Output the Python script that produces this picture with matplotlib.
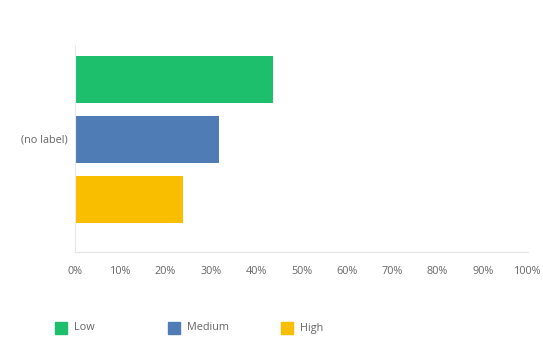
import matplotlib.pyplot as plt

# answer shares for the one question
levels = ['Low', 'Medium', 'High']
shares = [43.8, 31.8, 23.9]
colors = ['#1dbf6c', '#507cb6', '#f9be00']
ticks = [0, 10, 20, 30, 40, 50, 60, 70, 80, 90, 100]

plt.rcParams['font.family'] = ['Open Sans', 'DejaVu Sans']
txt = '#666666'

fig = plt.figure(figsize=(5.43, 3.38), dpi=100)
ax = fig.add_axes([75/543, 1-252/338, 453/543, 207/338])

ypos = [2, 1, 0]
ax.barh(ypos, shares, height=0.78, color=colors)
ax.set_xlim(0, 100)
ax.set_ylim(-0.875, 2.575)

ax.set_xticks(ticks)
ax.set_xticklabels(['{}%'.format(t) for t in ticks], fontsize=7.8, color=txt)
ax.tick_params(axis='x', length=0, pad=10)
ax.set_yticks([])
ax.text(-0.015, 1, '(no label)', transform=ax.get_yaxis_transform(),
        ha='right', va='center', fontsize=7.8, color=txt)

for s in ['top', 'right']:
    ax.spines[s].set_visible(False)
ax.spines['left'].set_color('#e6e9ee')
ax.spines['bottom'].set_color('#dfe2e6')

# legend row along the bottom, evenly spaced entries
for i, (c, l) in enumerate(zip(colors, levels)):
    x0 = 55 + i*113
    fig.patches.append(plt.Rectangle((x0/543, 1-334/338), 12/543, 12/338,
                                     transform=fig.transFigure, color=c))
    fig.text((x0+19)/543, 1-328/338, l, ha='left', va='center',
             fontsize=7.8, color=txt)

fig.savefig('out.png', dpi=100)
